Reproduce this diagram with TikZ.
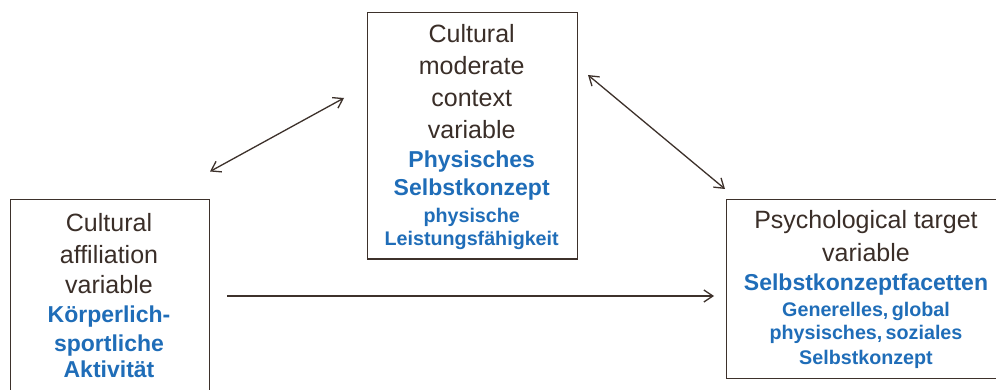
\documentclass[tikz,border=0pt]{standalone}
\usepackage{fontspec}
\setmainfont{Liberation Sans}
\usetikzlibrary{arrows.meta}
\definecolor{ink}{HTML}{3A2E28}
\definecolor{rule}{HTML}{3D312B}
\definecolor{accent}{HTML}{1F6DB8}
% one centred line: size, distance from previous baseline, text
\newcommand{\plainline}[3]{{\fontsize{#1}{#2}\selectfont\color{ink}#3\par}}
\newcommand{\boldline}[3]{{\fontsize{#1}{#2}\selectfont\bfseries\color{accent}#3\par}}
\tikzset{
  varbox/.style={draw=rule, line width=1.4pt, rectangle, inner sep=0pt, anchor=north west},
  boxtext/.style={text width=280pt, align=center, inner sep=0pt, anchor=base},
  link/.style={draw=rule, line width=1.3pt, {Straight Barb[length=9pt,width=12pt]}-{Straight Barb[length=9pt,width=12pt]}},
  onelink/.style={draw=rule, line width=1.3pt, -{Straight Barb[length=9pt,width=12pt]}}
}
\begin{document}
\begin{tikzpicture}[x=1pt,y=-1pt]
\clip (0,0) rectangle (996,390);
\fill[white] (0,0) rectangle (996,390);

% variable boxes
\node[varbox, minimum width=199pt, minimum height=220pt] (aff) at (9.5,199) {};
\node[varbox, minimum width=210pt, minimum height=246.5pt] (ctx) at (366.7,11.7) {};
\node[varbox, minimum width=290pt, minimum height=179pt] (tgt) at (726,199) {};

% box contents
\node[boxtext] (afftext) at (109,232) {%
  \plainline{25}{32}{Cultural}
  \plainline{25}{32}{affiliation}
  \plainline{25}{30}{variable}
  \boldline{23}{29}{Körperlich-}
  \boldline{23}{29}{sportliche}
  \boldline{23}{26}{Aktivität}};

\node[boxtext] (ctxtext) at (471.7,43) {%
  \plainline{25}{31}{Cultural}
  \plainline{25}{31.5}{moderate}
  \plainline{25}{32}{context}
  \plainline{25}{32}{variable}
  \boldline{23}{29}{Physisches}
  \boldline{23}{28}{Selbstkonzept}
  \boldline{19.7}{27}{physische}
  \boldline{19.7}{23.5}{Leistungsfähigkeit}};

\node[boxtext] (tgttext) at (866,229) {%
  \plainline{25}{32}{Psychological\ \ target}
  \plainline{25}{33}{variable}
  \boldline{23}{29}{Selbstkonzeptfacetten}
  \boldline{19.7}{26}{Generelles, global}
  \boldline{19.7}{22.5}{physisches, soziales}
  \boldline{19.7}{25}{Selbstkonzept}};

% connector ends
\coordinate (a1) at (210,171.5);
\coordinate (a2) at (344,98);
\coordinate (b1) at (588,75);
\coordinate (b2) at (725,189);
\coordinate (c1) at (227,296);
\coordinate (c2) at (714,296);

\draw[link] (a1) -- (a2);
\draw[link] (b1) -- (b2);
\draw[onelink] (c1) -- (c2);
\end{tikzpicture}
\end{document}
